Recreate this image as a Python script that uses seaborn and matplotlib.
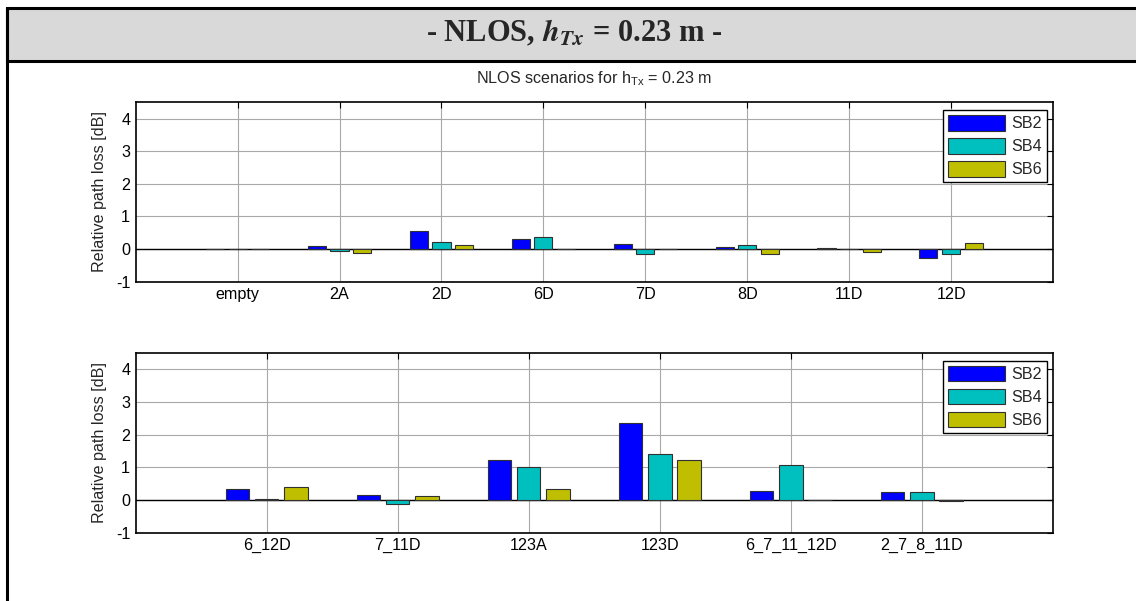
import numpy as np
import pandas as pd
import matplotlib
matplotlib.use('Agg')
import matplotlib.pyplot as plt
from matplotlib.patches import Rectangle
from matplotlib.lines import Line2D
import seaborn as sns

# ========== data ==========
series_names = ['SB2', 'SB4', 'SB6']
series_colors = ['#0000ff', '#00bfbf', '#bfbf00']

top_cats = ['empty', '2A', '2D', '6D', '7D', '8D', '11D', '12D']
top_sb2 = [0.0, 0.08, 0.54, 0.31, 0.16, 0.07, 0.04, -0.28]
top_sb4 = [0.0, -0.05, 0.23, 0.36, -0.15, 0.12, 0.0, -0.15]
top_sb6 = [0.0, -0.12, 0.12, 0.0, 0.0, -0.15, -0.08, 0.19]

bot_cats = ['6_12D', '7_11D', '123A', '123D', '6_7_11_12D', '2_7_8_11D']
bot_sb2 = [0.35, 0.16, 1.23, 2.36, 0.28, 0.23]
bot_sb4 = [0.04, -0.12, 1.01, 1.39, 1.08, 0.23]
bot_sb6 = [0.39, 0.12, 0.34, 1.23, 0.01, -0.04]

y_ticks = [-1, 0, 1, 2, 3, 4]


def long_df(cats, s2, s4, s6):
    rows = []
    for name, vals in zip(series_names, [s2, s4, s6]):
        for c, v in zip(cats, vals):
            rows.append({'scenario': c, 'band': name, 'loss': v})
    return pd.DataFrame(rows)


sns.set_style('white')
plt.rcParams['font.family'] = ['Liberation Sans', 'DejaVu Sans']
plt.rcParams['font.size'] = 11.6
plt.rcParams['axes.unicode_minus'] = False

fig = plt.figure(figsize=(11.36, 6.01), dpi=100)

# ========== frame / header ==========
fig.add_artist(Rectangle((7 / 1136, 1 - 61 / 601), 1.2, 53 / 601,
                         transform=fig.transFigure, facecolor='#d9d9d9',
                         edgecolor='black', linewidth=2.2, zorder=0))
fig.add_artist(Line2D([7 / 1136, 7 / 1136], [0, 1 - 8 / 601],
                      transform=fig.transFigure, color='black', linewidth=2.2))
fig.text(574 / 1136, 1 - 33 / 601, r'- NLOS, $\mathbfit{h}_{\mathbfit{Tx}}$ = 0.23 m -',
         ha='center', va='center', fontsize=22, fontweight='bold',
         family='Liberation Serif', math_fontfamily='stix')

ax_top = fig.add_axes([135.7 / 1136, 1 - 281.7 / 601, 917.3 / 1136, 179.4 / 601])
ax_bot = fig.add_axes([135.7 / 1136, 1 - 532.7 / 601, 917.3 / 1136, 180 / 601])

panels = [
    (ax_top, top_cats, long_df(top_cats, top_sb2, top_sb4, top_sb6)),
    (ax_bot, bot_cats, long_df(bot_cats, bot_sb2, bot_sb4, bot_sb6)),
]

for ax, cats, df in panels:
    sns.barplot(data=df, x='scenario', y='loss', hue='band', order=cats,
                hue_order=series_names, palette=series_colors, width=0.667,
                gap=0.2, edgecolor='#303030', linewidth=0.8, saturation=1,
                errorbar=None, ax=ax, zorder=3)
    ax.axhline(0, color='black', linewidth=1.0, zorder=2)
    ax.set_xlim(-1, len(cats))
    ax.set_ylim(-1, 4.5)
    ax.set_yticks(y_ticks)
    ax.set_xlabel('')
    ax.set_ylabel('Relative path loss [dB]', labelpad=6)
    ax.grid(True, color='#a8a8a8', linewidth=0.8, zorder=0)
    ax.set_axisbelow(True)
    ax.tick_params(direction='in', top=True, right=True, length=4, width=0.8,
                   pad=4, labelsize=11.6, colors='black')
    for sp in ax.spines.values():
        sp.set_color('black')
        sp.set_linewidth(1.2)
    sns.move_legend(ax, 'upper right', bbox_to_anchor=(0.993, 0.955), title=None,
                    frameon=True, fancybox=False, edgecolor='black',
                    framealpha=1, handlelength=3.5, handleheight=1.1,
                    labelspacing=0.42, handletextpad=0.4, borderpad=0.3,
                    borderaxespad=0.0, fontsize=11.6)
    ax.get_legend().get_frame().set_linewidth(1.0)

ax_top.set_title(r'NLOS scenarios for h$_{\mathregular{Tx}}$ = 0.23 m', fontsize=11.6, pad=14)

fig.savefig('out.png', dpi=100)
